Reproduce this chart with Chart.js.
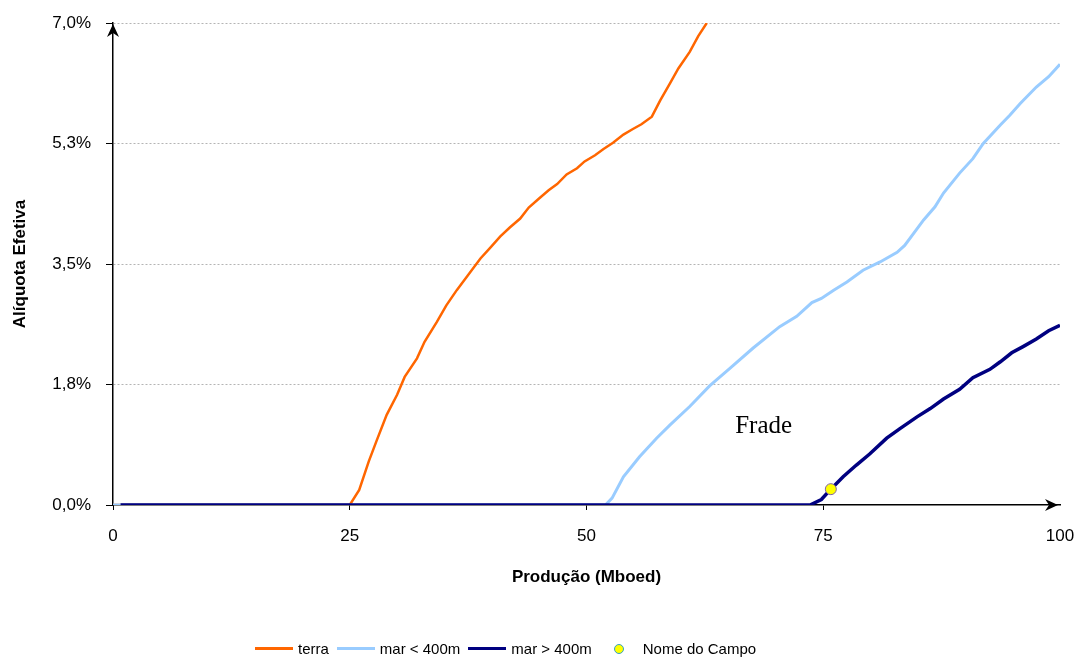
<!DOCTYPE html>
<html>
<head>
<meta charset="utf-8">
<script src="https://cdn.jsdelivr.net/npm/chart.js@4"></script>
<style>
  body { margin: 0; background: #fff; }
  #wrap { position: relative; width: 1080px; height: 660px; }
  #legend {
    position: absolute; left: 255px; top: 640px;
    display: flex; align-items: center; gap: 8px;
    font-family: "Liberation Sans", Arial, sans-serif; font-size: 15px; color: #000;
  }
  #legend .item { display: flex; align-items: center; gap: 5px; }
  #legend .line { width: 38px; height: 3px; }
  #legend .mark { width: 38px; display: flex; justify-content: center; }
  #legend .dot { width: 8px; height: 8px; border-radius: 50%; background: #ffff00; border: 1.5px solid #33a0c8; }
</style>
</head>
<body>
<div id="wrap">
  <canvas id="chart" width="1080" height="660"></canvas>
  <div id="legend"></div>
</div>
<script>
(() => {
  // valores (Produção em Mboed, alíquota em %)
  const terraX = [0, 25, 26, 27, 27.8, 28.9, 30, 30.8, 32.1, 32.9, 34.2, 35.2, 36.3, 37.5, 38.8, 39.8, 40.9, 41.9, 43, 43.9, 44.9, 46, 46.9, 47.9, 49, 49.8, 50.9, 51.8, 52.8, 53.9, 54.9, 55.8, 56.9, 57.8, 58.8, 59.7, 60.9, 61.8, 62.7];
  const terraY = [0, 0, 0.22, 0.63, 0.92, 1.31, 1.6, 1.86, 2.13, 2.37, 2.66, 2.9, 3.12, 3.34, 3.58, 3.73, 3.9, 4.03, 4.16, 4.32, 4.44, 4.57, 4.66, 4.8, 4.89, 4.99, 5.08, 5.17, 5.26, 5.38, 5.46, 5.53, 5.64, 5.88, 6.12, 6.34, 6.58, 6.81, 7.0];

  const rasoX = [0, 52, 52.7, 53.9, 55.6, 57.4, 58.8, 60.9, 63, 65.2, 67.6, 70.4, 72.2, 73.8, 74.8, 76.1, 77.5, 79.2, 81, 82.8, 83.6, 85.6, 86.8, 87.7, 89.4, 90.8, 91.9, 93.7, 94.7, 95.8, 97.5, 98.8, 100];
  const rasoY = [0, 0, 0.1, 0.41, 0.7, 0.97, 1.16, 1.43, 1.73, 1.99, 2.28, 2.59, 2.74, 2.94, 3.0, 3.12, 3.24, 3.41, 3.53, 3.67, 3.77, 4.14, 4.33, 4.53, 4.82, 5.03, 5.25, 5.52, 5.66, 5.83, 6.07, 6.22, 6.4];

  const fundoX = [0.8, 73.6, 74.8, 75.8, 77.1, 78.5, 79.9, 81.7, 83.1, 84.9, 86.3, 87.7, 89.4, 90.8, 92.6, 93.7, 94.9, 96.1, 97.5, 98.8, 100];
  const fundoY = [0, 0, 0.08, 0.23, 0.41, 0.58, 0.74, 0.97, 1.11, 1.28, 1.4, 1.54, 1.68, 1.85, 1.97, 2.08, 2.21, 2.3, 2.41, 2.53, 2.61];

  const campoX = [75.8];
  const campoY = [0.23];
  const campoNome = "Frade";
  const campoLabelX = 65.7;
  const campoLabelY = 1.05;

  const seriesNames = ["terra", "mar < 400m", "mar > 400m", "Nome do Campo"];
  const xTickLabels = ["0", "25", "50", "75", "100"];
  const yTickLabels = ["0,0%", "1,8%", "3,5%", "5,3%", "7,0%"];

  const ORANGE = "#ff6600";
  const LIGHT = "#99ccff";
  const NAVY = "#000080";
  const FONT = "'Liberation Sans', Arial, sans-serif";

  const toPoints = (xs, ys) => xs.map((x, i) => ({ x, y: ys[i] }));

  const lineSet = (label, data, color, width, order) => ({
    type: "line",
    label,
    data,
    borderColor: color,
    backgroundColor: color,
    borderWidth: width,
    pointRadius: 0,
    tension: 0,
    order,
  });

  // setas nas pontas dos eixos + rótulo do campo
  const extras = {
    id: "extras",
    afterDatasetsDraw(chart) {
      const { ctx, scales: { x, y } } = chart;
      ctx.save();
      ctx.font = "25px 'Liberation Serif', 'Times New Roman', serif";
      ctx.fillStyle = "#000";
      ctx.textBaseline = "alphabetic";
      ctx.fillText(campoNome, x.getPixelForValue(campoLabelX), y.getPixelForValue(campoLabelY));
      ctx.restore();
    },
    afterDraw(chart) {
      const { ctx, chartArea: a } = chart;
      ctx.save();
      ctx.fillStyle = "#000";
      // seta vertical
      ctx.beginPath();
      ctx.moveTo(a.left, a.top + 1);
      ctx.lineTo(a.left - 6, a.top + 14);
      ctx.lineTo(a.left, a.top + 10);
      ctx.lineTo(a.left + 6, a.top + 14);
      ctx.closePath();
      ctx.fill();
      // seta horizontal
      ctx.beginPath();
      ctx.moveTo(a.right - 2, a.bottom);
      ctx.lineTo(a.right - 15, a.bottom - 6);
      ctx.lineTo(a.right - 11, a.bottom);
      ctx.lineTo(a.right - 15, a.bottom + 6);
      ctx.closePath();
      ctx.fill();
      ctx.restore();
    },
  };

  new Chart(document.getElementById("chart"), {
    data: {
      datasets: [
        lineSet(seriesNames[0], toPoints(terraX, terraY), ORANGE, 2.5, 4),
        lineSet(seriesNames[1], toPoints(rasoX, rasoY), LIGHT, 3, 3),
        lineSet(seriesNames[2], toPoints(fundoX, fundoY), NAVY, 3.5, 2),
        {
          type: "scatter",
          label: seriesNames[3],
          data: toPoints(campoX, campoY),
          backgroundColor: "#ffff00",
          borderColor: "#8064a2",
          borderWidth: 1,
          pointRadius: 5.5,
          order: 1,
        },
      ],
    },
    options: {
      responsive: false,
      animation: false,
      layout: { padding: { top: 23, right: 20, bottom: 65, left: 0 } },
      plugins: {
        legend: { display: false },
        tooltip: { enabled: false },
      },
      scales: {
        x: {
          type: "linear",
          min: 0,
          max: 100,
          afterFit: (s) => { s.height = 90; s.paddingLeft = 0; s.paddingRight = 0; },
          ticks: {
            stepSize: 25,
            padding: 16,
            color: "#000",
            font: { family: FONT, size: 17 },
            callback: (v) => xTickLabels[v / 25] ?? "",
          },
          grid: {
            drawOnChartArea: false,
            tickLength: 5,
            tickColor: (c) => (c.tick && c.tick.value === 100 ? "rgba(0,0,0,0)" : "#000"),
          },
          border: { color: "#000", width: 1.5 },
          title: {
            display: true,
            text: "Produção (Mboed)",
            color: "#000",
            font: { family: FONT, size: 17, weight: "bold" },
            padding: { top: 0, bottom: 7 },
          },
        },
        y: {
          type: "linear",
          min: 0,
          max: 7,
          afterFit: (s) => { s.width = 113; s.paddingTop = 0; s.paddingBottom = 0; },
          ticks: {
            stepSize: 1.75,
            padding: 15,
            color: "#000",
            font: { family: FONT, size: 17 },
            callback: (v) => yTickLabels[Math.round(v / 1.75)] ?? "",
          },
          grid: {
            color: (c) => (c.tick && c.tick.value === 0 ? "rgba(0,0,0,0)" : "#b4b4b4"),
            lineWidth: 1,
            tickLength: 7,
            tickColor: "#000",
          },
          border: { color: "#000", width: 1.5, dash: [2, 2] },
          title: {
            display: true,
            text: "Alíquota Efetiva",
            color: "#000",
            font: { family: FONT, size: 17, weight: "bold" },
            padding: { top: 10, bottom: 0 },
          },
        },
      },
    },
    plugins: [extras],
  });

  // legenda em HTML
  const legend = document.getElementById("legend");
  const swatches = [ORANGE, LIGHT, NAVY, null];
  legend.innerHTML = seriesNames.map((name, i) => {
    const sw = swatches[i]
      ? `<span class="line" style="background:${swatches[i]}"></span>`
      : `<span class="mark"><span class="dot"></span></span>`;
    return `<span class="item">${sw}<span>${name}</span></span>`;
  }).join("");
})();
</script>
</body>
</html>
